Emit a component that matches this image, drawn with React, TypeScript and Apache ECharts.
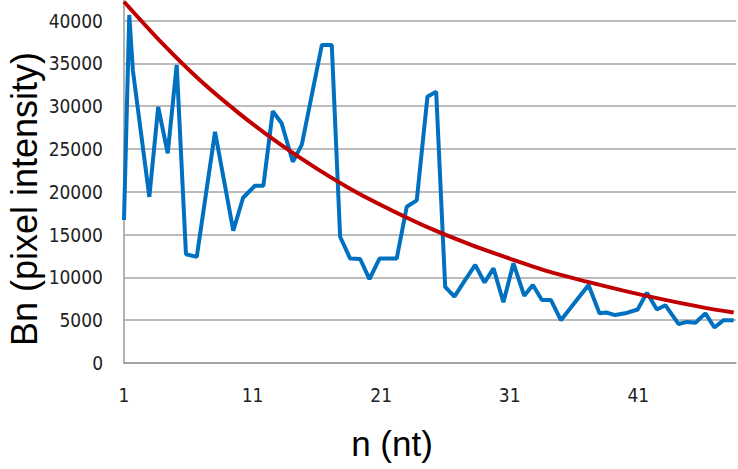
import React, { useEffect, useRef } from "react";
import * as echarts from "echarts";

// Blue series: n (nt) positions and Bn (pixel intensity) values
const nValues = [
  1.0, 1.41, 1.69, 2.97, 3.66, 4.4, 5.1, 5.82, 6.66, 8.08, 9.5, 10.26, 11.19, 11.84,
  12.57, 13.26, 14.13, 14.83, 16.39, 17.16, 17.81, 18.59, 19.37, 20.09, 20.87, 22.21,
  22.99, 23.77, 24.6, 25.28, 25.98, 26.7, 27.54, 28.32, 29.04, 29.74, 30.51, 31.29,
  32.13, 32.8, 33.5, 34.21, 34.98, 37.13, 37.98, 38.5, 39.2, 39.98, 40.95, 41.67,
  42.45, 43.1, 44.14, 44.79, 45.44, 46.22, 46.92, 47.64, 48.42,
];
const bnValues = [
  16700, 40650, 34200, 19400, 29900, 24500, 34800, 12700, 12400, 27000, 15450, 19300,
  20700, 20700, 29400, 28000, 23500, 25500, 37150, 37150, 14750, 12200, 12150, 9800,
  12200, 12200, 18250, 19000, 31100, 31700, 8900, 7750, 9700, 11450, 9400, 11050,
  7100, 11650, 7850, 9100, 7350, 7350, 5000, 9100, 5800, 5900, 5600, 5800, 6250, 8200,
  6250, 6750, 4550, 4800, 4700, 5800, 4150, 5000, 5000,
];

// Red trend curve
const trendN = [1, 4, 7, 10, 13, 16, 19, 22, 25, 28, 31, 34, 37, 40, 43, 46, 48.42];
const trendBn = [
  42200, 37300, 32900, 29100, 25700, 22700, 20000, 17700, 15600, 13800, 12200, 10700,
  9500, 8400, 7400, 6500, 5900,
];

const xTitle = "n (nt)";
const yTitle = "Bn (pixel intensity)";

const tickFont = "'Liberation Sans Narrow', 'Arial Narrow', 'DejaVu Sans Condensed', sans-serif";

export default function App() {
  const ref = useRef<HTMLDivElement>(null);
  useEffect(() => {
    if (!ref.current) return;
    const chart = echarts.init(ref.current, undefined, { renderer: "svg" });
    const blue = nValues.map((n, i) => [n, bnValues[i]]);
    const red = trendN.map((n, i) => [n, trendBn[i]]);
    chart.setOption({
      animation: false,
      backgroundColor: "#ffffff",
      grid: { left: 124, top: 0, right: 2, bottom: 106, containLabel: false },
      xAxis: {
        type: "value",
        min: 1,
        max: 48.6,
        interval: 10,
        axisLine: { show: true, lineStyle: { color: "#9a9a9a", width: 1.5 } },
        axisTick: { show: false },
        splitLine: { show: false },
        axisLabel: {
          color: "#222",
          fontFamily: tickFont,
          fontSize: 19,
          margin: 22,
          showMaxLabel: false,
          formatter: (v: number) => String(v),
        },
      },
      yAxis: {
        type: "value",
        min: 0,
        max: 42400,
        interval: 5000,
        axisLine: { show: true, lineStyle: { color: "#9a9a9a", width: 1.5 } },
        axisTick: { show: false },
        splitLine: { show: true, showMaxLine: false, lineStyle: { color: "#a6a6a6", width: 1.5 } },
        axisLabel: {
          color: "#222",
          fontFamily: tickFont,
          fontSize: 19,
          margin: 21,
          showMaxLabel: false,
          formatter: (v: number) => String(v),
        },
      },
      graphic: [
        {
          type: "text",
          x: 24,
          y: 199,
          rotation: Math.PI / 2,
          style: {
            text: yTitle,
            font: "36px 'Liberation Sans', Arial, sans-serif",
            fill: "#000",
            textAlign: "center",
            textVerticalAlign: "middle",
          },
        },
        {
          type: "text",
          x: 392,
          y: 443,
          style: {
            text: xTitle,
            font: "35px 'Liberation Sans', Arial, sans-serif",
            fill: "#000",
            textAlign: "center",
            textVerticalAlign: "middle",
          },
        },
      ],
      series: [
        {
          type: "line",
          data: blue,
          showSymbol: false,
          symbol: "none",
          lineStyle: { color: "#0070c0", width: 4 },
          clip: false,
          z: 2,
        },
        {
          type: "line",
          data: red,
          smooth: 0.3,
          showSymbol: false,
          symbol: "none",
          lineStyle: { color: "#c00000", width: 4 },
          clip: false,
          z: 3,
        },
      ],
    });
    return () => chart.dispose();
  }, []);
  return (
    <div
      ref={ref}
      style={{ position: "fixed", left: 0, top: 0, width: 738, height: 469 }}
    />
  );
}
